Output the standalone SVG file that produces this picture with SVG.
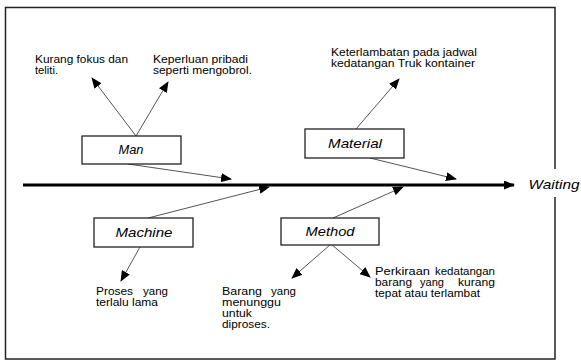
<svg xmlns="http://www.w3.org/2000/svg" width="581" height="361" viewBox="0 0 581 361">
<style>
.t{font-family:"Liberation Sans",Arial,sans-serif;font-size:10.5px;fill:#000}
.e{text-anchor:end}
.m{text-anchor:middle}
.lbl{font-family:"Liberation Sans",Arial,sans-serif;font-size:13px;font-style:italic;fill:#000;text-anchor:middle}
.box{fill:#fff;stroke:#222;stroke-width:1.3}
.ln{stroke:#555;stroke-width:1;fill:none}
</style>
<defs>
<marker id="ah" markerUnits="userSpaceOnUse" markerWidth="11" markerHeight="9" refX="10" refY="4.5" orient="auto">
<path d="M0,0 L11,4.5 L0,9 z" fill="#000"/>
</marker>
</defs>
<rect width="581" height="361" fill="#fff"/>
<path d="M555,169 L555,7.5 L5.5,7.5 L5.5,359 L555,359 L555,197" fill="none" stroke="#222" stroke-width="1.5"/>
<g id="connectors">
<line x1="23" y1="185" x2="514" y2="185" stroke="#000" stroke-width="3" marker-end="url(#ah)"/>
<line class="ln" x1="136" y1="136" x2="92" y2="78" marker-end="url(#ah)"/>
<line class="ln" x1="136" y1="136" x2="168" y2="82" marker-end="url(#ah)"/>
<line class="ln" x1="128" y1="164" x2="231" y2="179" marker-end="url(#ah)"/>
<line class="ln" x1="356" y1="129" x2="399" y2="79" marker-end="url(#ah)"/>
<line class="ln" x1="370" y1="158" x2="456" y2="179" marker-end="url(#ah)"/>
<line class="ln" x1="148" y1="218" x2="269" y2="187" marker-end="url(#ah)"/>
<line class="ln" x1="140" y1="247" x2="121" y2="281" marker-end="url(#ah)"/>
<line class="ln" x1="333" y1="218" x2="403" y2="187" marker-end="url(#ah)"/>
<line class="ln" x1="331" y1="244" x2="292" y2="278" marker-end="url(#ah)"/>
<line class="ln" x1="331" y1="244" x2="370" y2="277" marker-end="url(#ah)"/>
</g>
<g id="man">
<rect class="box" x="82" y="136" width="99" height="28"/>
<text class="lbl" x="131" y="154" textLength="25" lengthAdjust="spacingAndGlyphs">Man</text>
</g>
<g id="material">
<rect class="box" x="305" y="129" width="99" height="29"/>
<text class="lbl" x="355" y="148" textLength="54" lengthAdjust="spacingAndGlyphs">Material</text>
</g>
<g id="machine">
<rect class="box" x="94" y="218" width="99" height="29"/>
<text class="lbl" x="144" y="237" textLength="57" lengthAdjust="spacingAndGlyphs">Machine</text>
</g>
<g id="method">
<rect class="box" x="281" y="218" width="98" height="27"/>
<text class="lbl" x="330" y="236" textLength="49" lengthAdjust="spacingAndGlyphs">Method</text>
</g>
<g id="waiting">
<text class="lbl" x="554" y="189" textLength="51" lengthAdjust="spacingAndGlyphs">Waiting</text>
</g>
<g id="man-cause-1">
<text class="t" x="35" y="63" textLength="93" lengthAdjust="spacingAndGlyphs">Kurang fokus dan</text>
<text class="t" x="35" y="74" textLength="23" lengthAdjust="spacingAndGlyphs">teliti.</text>
</g>
<g id="man-cause-2">
<text class="t" x="153" y="63" textLength="95" lengthAdjust="spacingAndGlyphs">Keperluan pribadi</text>
<text class="t" x="153" y="74" textLength="99" lengthAdjust="spacingAndGlyphs">seperti mengobrol.</text>
</g>
<g id="material-cause">
<text class="t" x="331" y="56" textLength="146" lengthAdjust="spacingAndGlyphs">Keterlambatan pada jadwal</text>
<text class="t" x="331" y="67" textLength="144" lengthAdjust="spacingAndGlyphs">kedatangan Truk kontainer</text>
</g>
<g id="machine-cause">
<text class="t" x="96" y="295" textLength="37" lengthAdjust="spacingAndGlyphs">Proses</text>
<text class="t" x="143" y="295" textLength="25" lengthAdjust="spacingAndGlyphs">yang</text>
<text class="t" x="96" y="306" textLength="62" lengthAdjust="spacingAndGlyphs">terlalu lama</text>
</g>
<g id="method-cause-1">
<text class="t" x="222" y="295" textLength="40" lengthAdjust="spacingAndGlyphs">Barang</text>
<text class="t" x="271" y="295" textLength="25" lengthAdjust="spacingAndGlyphs">yang</text>
<text class="t" x="222" y="306" textLength="59" lengthAdjust="spacingAndGlyphs">menunggu</text>
<text class="t" x="222" y="317" textLength="30" lengthAdjust="spacingAndGlyphs">untuk</text>
<text class="t" x="222" y="328" textLength="48" lengthAdjust="spacingAndGlyphs">diproses.</text>
</g>
<g id="method-cause-2">
<text class="t" x="375" y="275" textLength="55" lengthAdjust="spacingAndGlyphs">Perkiraan</text>
<text class="t" x="435" y="275" textLength="60" lengthAdjust="spacingAndGlyphs">kedatangan</text>
<text class="t" x="375" y="286" textLength="37" lengthAdjust="spacingAndGlyphs">barang</text>
<text class="t" x="420" y="286" textLength="24" lengthAdjust="spacingAndGlyphs">yang</text>
<text class="t" x="458" y="286" textLength="37" lengthAdjust="spacingAndGlyphs">kurang</text>
<text class="t" x="375" y="297" textLength="105" lengthAdjust="spacingAndGlyphs">tepat atau terlambat</text>
</g>
</svg>
